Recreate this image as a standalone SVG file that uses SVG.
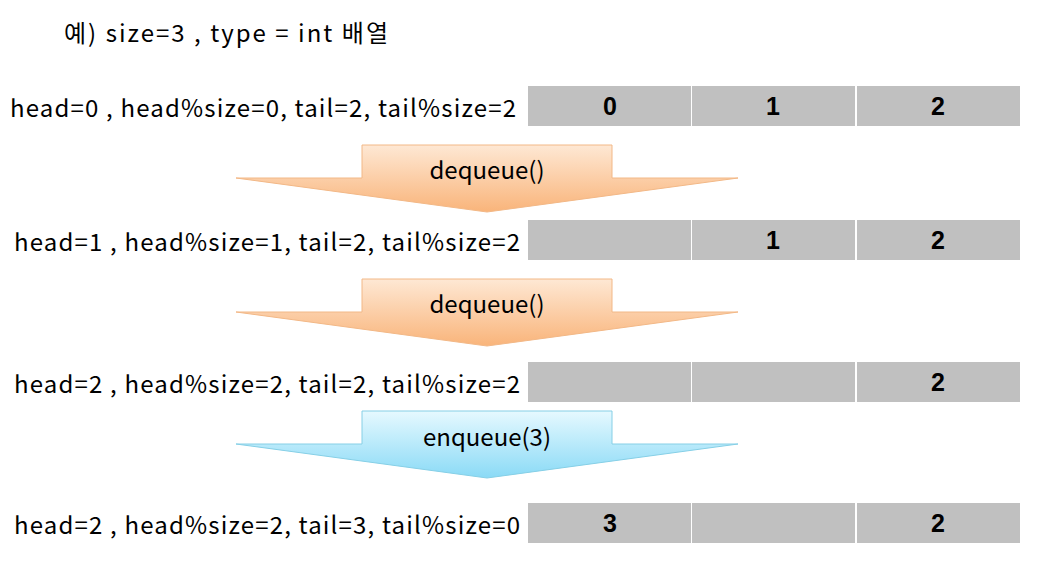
<svg xmlns="http://www.w3.org/2000/svg" width="1042" height="581" viewBox="0 0 1042 581">
<defs>
<linearGradient id="og" x1="0" y1="0" x2="0" y2="1">
<stop offset="0" stop-color="#FEE8D4"/>
<stop offset="1" stop-color="#F9B47A"/>
</linearGradient>
<linearGradient id="bg" x1="0" y1="0" x2="0" y2="1">
<stop offset="0" stop-color="#E6F9FF"/>
<stop offset="1" stop-color="#8ADAF6"/>
</linearGradient>
<style>
.lbl{font-family:"Noto Sans CJK KR","Liberation Sans",sans-serif;font-size:24px;fill:#000}
.num{font-family:"Liberation Sans",sans-serif;font-size:25px;font-weight:bold;fill:#000;text-anchor:middle}
.cell{fill:#C0C0C0}
.arrO{fill:url(#og);stroke:#F2B887;stroke-width:1}
.arrB{fill:url(#bg);stroke:#86CFE6;stroke-width:1}
.at{font-family:"Noto Sans CJK KR","Liberation Sans",sans-serif;font-size:24px;fill:#000;text-anchor:middle}
</style>
</defs>
<rect width="1042" height="581" fill="#fff"/>
<text class="lbl" x="64" y="42" textLength="324" lengthAdjust="spacing">예) size=3 , type = int 배열</text>

<g id="row1">
<text class="lbl" x="10" y="117" textLength="506" lengthAdjust="spacing">head=0 , head%size=0, tail=2, tail%size=2</text>
<rect class="cell" x="528" y="86" width="163" height="40"/>
<rect class="cell" x="692" y="86" width="163" height="40"/>
<rect class="cell" x="857" y="86" width="163" height="40"/>
<text class="num" x="610" y="115">0</text>
<text class="num" x="773" y="115">1</text>
<text class="num" x="938" y="115">2</text>
</g>

<g id="row2">
<text class="lbl" x="14" y="251" textLength="506" lengthAdjust="spacing">head=1 , head%size=1, tail=2, tail%size=2</text>
<rect class="cell" x="528" y="220" width="163" height="40"/>
<rect class="cell" x="692" y="220" width="163" height="40"/>
<rect class="cell" x="857" y="220" width="163" height="40"/>
<text class="num" x="773" y="249">1</text>
<text class="num" x="938" y="249">2</text>
</g>

<g id="row3">
<text class="lbl" x="14" y="393" textLength="506" lengthAdjust="spacing">head=2 , head%size=2, tail=2, tail%size=2</text>
<rect class="cell" x="528" y="362" width="163" height="40"/>
<rect class="cell" x="692" y="362" width="163" height="40"/>
<rect class="cell" x="857" y="362" width="163" height="40"/>
<text class="num" x="938" y="391">2</text>
</g>

<g id="row4">
<text class="lbl" x="14" y="534" textLength="506" lengthAdjust="spacing">head=2 , head%size=2, tail=3, tail%size=0</text>
<rect class="cell" x="528" y="503" width="163" height="40"/>
<rect class="cell" x="692" y="503" width="163" height="40"/>
<rect class="cell" x="857" y="503" width="163" height="40"/>
<text class="num" x="610" y="532">3</text>
<text class="num" x="938" y="532">2</text>
</g>

<g id="connectors">
<g id="arrow1">
<path class="arrO" d="M362,145 H612 V178 H738 L487,212 L236,178 H362 Z"/>
<text class="at" x="487" y="179">dequeue()</text>
</g>
<g id="arrow2">
<path class="arrO" d="M362,279 H612 V312 H738 L487,346 L236,312 H362 Z"/>
<text class="at" x="487" y="313">dequeue()</text>
</g>
<g id="arrow3">
<path class="arrB" d="M362,411 H612 V444 H738 L487,478 L236,444 H362 Z"/>
<text class="at" x="487" y="446">enqueue(3)</text>
</g>
</g>
</svg>
